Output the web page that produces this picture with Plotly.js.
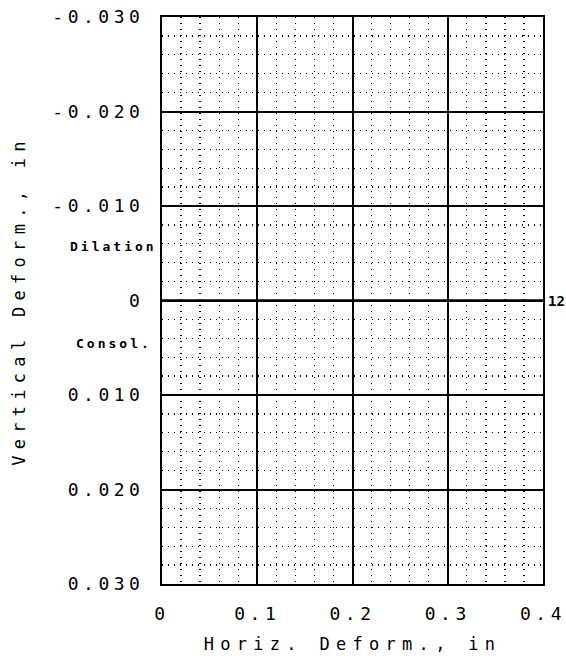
<!DOCTYPE html>
<html>
<head>
<meta charset="utf-8">
<script src="https://cdn.plot.ly/plotly-3.0.1.min.js"></script>
<style>
  html, body { margin: 0; padding: 0; background: #fff; }
  #chart { width: 566px; height: 664px; }
  .xtick text, .ytick text { letter-spacing: 4.5px; }
  .xtitle, .ytitle { letter-spacing: 6.3px; }
  .annotation-text { letter-spacing: 3px; }
  .annotation[data-index="2"] .annotation-text { letter-spacing: 0px; }
</style>
</head>
<body>
<div id="chart"></div>
<script>
// Data
const specimenName = "12";
const horizDeform = [0, 0.05, 0.1, 0.15, 0.2, 0.25, 0.3, 0.35, 0.4];
const vertDeform  = [0, 0, 0, 0, 0, 0, 0, 0, 0];

const xTickVals = [0, 0.1, 0.2, 0.3, 0.4];
const xTickText = ["0", "0.1", "0.2", "0.3", "0.4"];
const yTickVals = [-0.03, -0.02, -0.01, 0, 0.01, 0.02, 0.03];
const yTickText = ["-0.030", "-0.020", "-0.010", "0", "0.010", "0.020", "0.030"];

const FONT = "DejaVu Sans Mono, Liberation Mono, monospace";

const trace = {
  x: horizDeform,
  y: vertDeform,
  type: "scatter",
  mode: "lines",
  line: { color: "#000", width: 2.6 },
  name: specimenName,
  showlegend: false,
  hoverinfo: "skip"
};

const layout = {
  width: 566,
  height: 664,
  margin: { l: 162, r: 23, t: 17, b: 80 },
  paper_bgcolor: "#fff",
  plot_bgcolor: "#fff",
  showlegend: false,
  font: { family: FONT, color: "#000" },
  xaxis: {
    range: [0, 0.4],
    tickvals: xTickVals,
    ticktext: xTickText,
    ticks: "",
    ticklabelstandoff: 12,
    ticklabeloverflow: "allow",
    tickfont: { family: FONT, size: 18, color: "#000" },
    showgrid: true,
    gridcolor: "#000",
    gridwidth: 2,
    zeroline: false,
    showline: true,
    mirror: true,
    linecolor: "#000",
    linewidth: 2,
    minor: { dtick: 0.02, showgrid: true, gridcolor: "#000", gridwidth: 1.3, griddash: "1.3px,4.7px" },
    title: { text: "Horiz. Deform., in", font: { family: FONT, size: 17, color: "#000" }, standoff: 16 },
    automargin: false,
    fixedrange: true
  },
  yaxis: {
    range: [0.03, -0.03],
    tickvals: yTickVals,
    ticktext: yTickText,
    ticks: "",
    ticklabelstandoff: 12,
    ticklabeloverflow: "allow",
    tickfont: { family: FONT, size: 18, color: "#000" },
    showgrid: true,
    gridcolor: "#000",
    gridwidth: 2,
    zeroline: false,
    showline: true,
    mirror: true,
    linecolor: "#000",
    linewidth: 2,
    minor: { dtick: 0.002, showgrid: true, gridcolor: "#000", gridwidth: 1.3, griddash: "1.3px,4.7px" },
    title: { text: "Vertical Deform., in", font: { family: FONT, size: 17, color: "#000" }, standoff: 22 },
    automargin: false,
    fixedrange: true
  },
  annotations: [
    { xref: "paper", yref: "y", x: -0.008, y: -0.0057, xanchor: "right", yanchor: "middle",
      text: "<b>Dilation</b>", showarrow: false, font: { family: FONT, size: 13, color: "#000" } },
    { xref: "paper", yref: "y", x: -0.02, y: 0.0045, xanchor: "right", yanchor: "middle",
      text: "<b>Consol.</b>", showarrow: false, font: { family: FONT, size: 13, color: "#000" } },
    { xref: "paper", yref: "y", x: 1, y: 0, xanchor: "left", yanchor: "middle", xshift: 0,
      text: "<b>" + specimenName + "</b>", showarrow: false, font: { family: FONT, size: 14, color: "#000" } }
  ]
};

Plotly.newPlot("chart", [trace], layout, { displayModeBar: false, staticPlot: true });
</script>
</body>
</html>
